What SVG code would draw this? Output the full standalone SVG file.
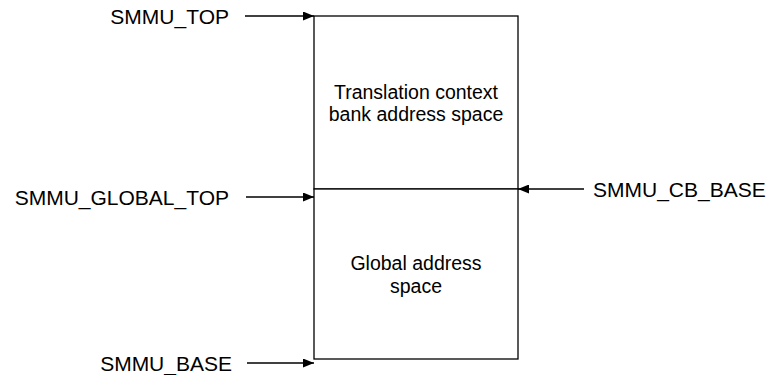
<svg xmlns="http://www.w3.org/2000/svg" width="780" height="375" viewBox="0 0 780 375">
<style>
text{font-family:"Liberation Sans",Arial,sans-serif;font-size:19.5px;fill:#000}
.lbl{font-size:21px}
.box{fill:#fff;stroke:#000;stroke-width:1.3}
.c{fill:none;stroke:#000;stroke-width:1.3}
</style>
<defs>
<marker id="ah" viewBox="0 0 11 9" refX="11" refY="4.5" markerWidth="11" markerHeight="9" markerUnits="userSpaceOnUse" orient="auto">
<path d="M0,0L11,4.5L0,9Z" fill="#000"/>
</marker>
</defs>
<rect width="780" height="375" fill="#fff"/>
<g id="tcb">
<rect class="box" x="314" y="16" width="204" height="173"/>
<text x="416" y="99" text-anchor="middle">Translation context</text>
<text x="416" y="121" text-anchor="middle">bank address space</text>
</g>
<g id="global">
<rect class="box" x="314" y="189" width="204" height="170"/>
<text x="416" y="270" text-anchor="middle">Global address</text>
<text x="416" y="293" text-anchor="middle">space</text>
</g>
<g id="labels">
<text class="lbl" x="229" y="24" text-anchor="end">SMMU_TOP</text>
<text class="lbl" x="229" y="205" text-anchor="end">SMMU_GLOBAL_TOP</text>
<text class="lbl" x="593" y="197">SMMU_CB_BASE</text>
<text class="lbl" x="232" y="371" text-anchor="end">SMMU_BASE</text>
</g>
<g id="connectors">
<line class="c" x1="245" y1="16" x2="314" y2="16" marker-end="url(#ah)"/>
<line class="c" x1="246" y1="197" x2="314" y2="197" marker-end="url(#ah)"/>
<line class="c" x1="584" y1="189" x2="518" y2="189" marker-end="url(#ah)"/>
<line class="c" x1="247" y1="363" x2="314" y2="363" marker-end="url(#ah)"/>
</g>
</svg>
